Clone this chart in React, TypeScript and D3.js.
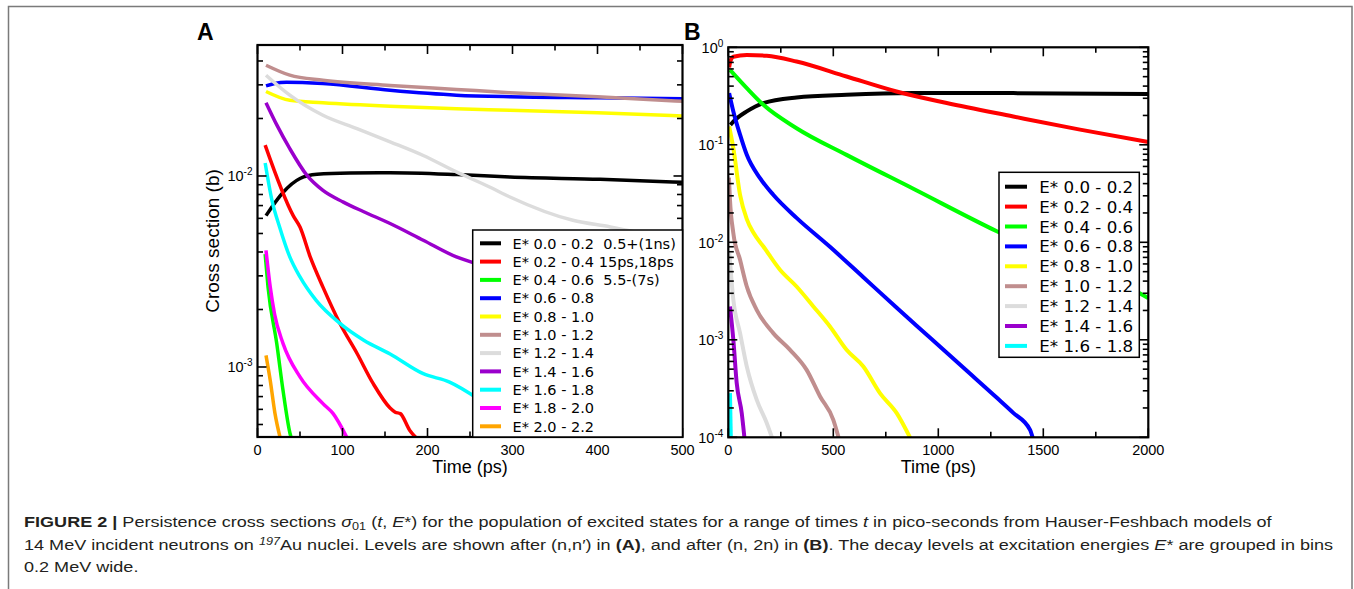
import React from 'react';
import * as d3 from 'd3';

type Pt = [number, number];

const FONT = "'Liberation Sans', Arial, Helvetica, sans-serif";
const LEGEND_FONT = "'DejaVu Sans', Verdana, sans-serif";

const colors = ['#000000', '#ff0000', '#00ff00', '#0000ff', '#ffff00', '#c08e8e', '#dcdcdc', '#9a00cc', '#00ffff', '#ff00ff', '#ffa500'];

const labelsA = [
  'E* 0.0 - 0.2  0.5+(1ns)', 'E* 0.2 - 0.4 15ps,18ps', 'E* 0.4 - 0.6  5.5-(7s)', 'E* 0.6 - 0.8',
  'E* 0.8 - 1.0', 'E* 1.0 - 1.2', 'E* 1.2 - 1.4', 'E* 1.4 - 1.6', 'E* 1.6 - 1.8', 'E* 1.8 - 2.0', 'E* 2.0 - 2.2',
];
const labelsB = labelsA.slice(0, 9).map(l => l.slice(0, 12));

const xTicksA = [0, 100, 200, 300, 400, 500];
const xTicksB = [0, 500, 1000, 1500, 2000];

// panel A, after (n,n'): [time ps, cross section b]
const a00: Pt[] = [[10, 6.2e-3], [30, 8.2e-3], [50, 9.7e-3], [70, 1.02e-2], [109, 1.036e-2], [156, 1.04e-2], [235, 1.017e-2], [297, 9.88e-3], [403, 9.6e-3], [500, 9.27e-3]];
const a02: Pt[] = [[9, 1.45e-2], [42, 6.2e-3], [50, 5.4e-3], [62, 3.77e-3], [77, 2.62e-3], [97, 1.69e-3], [117, 1.18e-3], [136, 8.2e-4], [156, 6.1e-4], [162, 5.8e-4], [168, 5.7e-4], [179, 4.67e-4], [188, 4.2e-4]];
const a04: Pt[] = [[9, 3.9e-3], [12.4, 2.62e-3], [22.6, 1.33e-3], [30, 7.55e-4], [38.2, 4.5e-4], [40, 4.2e-4]];
const a06: Pt[] = [[10, 2.96e-2], [20, 3.05e-2], [34, 3.1e-2], [77, 3.05e-2], [156, 2.81e-2], [234, 2.65e-2], [297, 2.6e-2], [400, 2.57e-2], [500, 2.54e-2]];
const a08: Pt[] = [[10, 2.77e-2], [38, 2.49e-2], [77, 2.42e-2], [156, 2.32e-2], [234, 2.25e-2], [297, 2.21e-2], [400, 2.14e-2], [500, 2.06e-2]];
const a10: Pt[] = [[10, 3.8e-2], [38, 3.37e-2], [77, 3.17e-2], [156, 2.98e-2], [234, 2.84e-2], [297, 2.73e-2], [400, 2.6e-2], [500, 2.46e-2]];
const a12: Pt[] = [[10, 3.37e-2], [38, 2.65e-2], [77, 2.08e-2], [117, 1.77e-2], [156, 1.51e-2], [195, 1.28e-2], [234, 1.05e-2], [273, 8.76e-3], [297, 7.76e-3], [371, 5.86e-3], [415, 5.41e-3], [500, 4.5e-3]];
const a14: Pt[] = [[10, 2.42e-2], [23, 1.84e-2], [38, 1.39e-2], [58, 1.01e-2], [77, 8.4e-3], [101, 7.3e-3], [125, 6.5e-3], [156, 5.64e-3], [195, 4.61e-3], [234, 3.77e-3], [260, 3.45e-3]];
const a16: Pt[] = [[9, 1.17e-2], [17, 7.46e-3], [26, 5.41e-3], [38, 3.77e-3], [50, 2.96e-3], [69, 2.23e-3], [97, 1.69e-3], [125, 1.38e-3], [156, 1.17e-3], [195, 9.22e-4], [226, 8.34e-4], [260, 6.8e-4]];
const a18: Pt[] = [[10, 4.08e-3], [15, 2.62e-3], [20, 1.9e-3], [30, 1.33e-3], [50, 8.87e-4], [77, 6.43e-4], [89, 5.7e-4], [106, 4.2e-4]];
const a20: Pt[] = [[10, 1.15e-3], [15, 8.5e-4], [20.6, 5.7e-4], [27, 4.2e-4]];

// panel B, after (n,2n)
const b00: Pt[] = [[10, 0.16], [24, 0.173], [88, 0.22], [167, 0.268], [325, 0.306], [563, 0.326], [881, 0.339], [1357, 0.339], [2000, 0.331]];
const b02: Pt[] = [[4, 0.62], [10, 0.72], [24, 0.8], [88, 0.835], [183, 0.82], [325, 0.715], [563, 0.502], [801, 0.352], [1040, 0.268], [1357, 0.195], [1675, 0.143], [2000, 0.107]];
const b04: Pt[] = [[8, 0.588], [88, 0.382], [167, 0.257], [325, 0.148], [563, 0.0788], [881, 0.0354], [1281, 0.0129], [1959, 3.01e-3], [2000, 2.68e-3]];
const b06: Pt[] = [[4, 0.339], [24, 0.22], [56, 0.127], [88, 0.0789], [151, 0.0455], [214, 0.0307], [325, 0.0178], [484, 8.99e-3], [643, 4.38e-3], [802, 2.13e-3], [961, 1.05e-3], [1120, 5.16e-4], [1279, 2.54e-4], [1357, 1.78e-4], [1437, 1.19e-4], [1450, 9.8e-5]];
const b08: Pt[] = [[4, 0.154], [24, 0.0925], [56, 0.0307], [88, 0.0173], [120, 0.0125], [167, 9.06e-3], [246, 5.23e-3], [325, 3.52e-3], [405, 2.2e-3], [484, 1.37e-3], [563, 7.89e-4], [643, 5.32e-4], [722, 2.84e-4], [802, 1.77e-4], [867, 9.8e-5]];
const b10: Pt[] = [[3, 0.046], [8, 0.0273], [24, 0.0124], [56, 6.62e-3], [88, 3.52e-3], [135, 2.03e-3], [214, 1.17e-3], [294, 7.89e-4], [373, 4.92e-4], [437, 2.62e-4], [500, 1.51e-4], [526, 9.8e-5]];
const b12: Pt[] = [[5, 7.74e-3], [24, 2.57e-3], [56, 1.17e-3], [88, 5.32e-4], [135, 2.43e-4], [183, 1.4e-4], [209, 9.8e-5]];
const b14: Pt[] = [[8, 2.2e-3], [24, 1.0e-3], [40, 3.6e-4], [64, 1.77e-4], [77, 9.8e-5]];
const b16: Pt[] = [[8, 2.84e-4], [12, 9.8e-5]];

type Seg = { t: string; b?: boolean; i?: boolean; sub?: boolean; sup?: boolean };

const caption1: Seg[] = [
  { t: 'FIGURE 2 |', b: true }, { t: ' Persistence cross sections ' }, { t: 'σ', i: true }, { t: '01', sub: true },
  { t: ' (' }, { t: 't', i: true }, { t: ', ' }, { t: 'E', i: true },
  { t: '*) for the population of excited states for a range of times ' }, { t: 't', i: true },
  { t: ' in pico-seconds from Hauser-Feshbach models of' },
];
const caption2: Seg[] = [
  { t: '14 MeV incident neutrons on ' }, { t: '197', i: true, sup: true }, { t: 'Au nuclei. Levels are shown after (n,n′) in ' },
  { t: '(A)', b: true }, { t: ', and after (n, 2n) in ' }, { t: '(B)', b: true },
  { t: '. The decay levels at excitation energies ' }, { t: 'E', i: true }, { t: '* are grouped in bins' },
];
const caption3: Seg[] = [{ t: '0.2 MeV wide.' }];

interface Legend { x0: number; x1: number; y0: number; y1: number; row0: number; step: number; lx0: number; lx1: number; tx: number; size: number }
interface PanelCfg {
  name: string; nameX: number;
  left: number; right: number; top: number; bottom: number;
  xDomain: [number, number]; yDomain: [number, number];
  xTicks: number[]; xMinor: number;
  series: Pt[][]; labels: string[]; legend: Legend;
  lineWidth: number; yTitle?: string;
}

const panelA: PanelCfg = {
  name: 'A', nameX: 197, left: 257.5, right: 682.5, top: 45, bottom: 437,
  xDomain: [0, 500], yDomain: [4.3e-4, 4.85e-2], xTicks: xTicksA, xMinor: 50,
  series: [a00, a02, a04, a06, a08, a10, a12, a14, a16, a18, a20], labels: labelsA,
  legend: { x0: 472.7, x1: 682.5, y0: 230, y1: 437, row0: 243.3, step: 18.3, lx0: 480, lx1: 501, tx: 512.5, size: 14.5 },
  lineWidth: 3.5, yTitle: 'Cross section (b)',
};
const panelB: PanelCfg = {
  name: 'B', nameX: 684, left: 728.3, right: 1148.3, top: 47.3, bottom: 437.3,
  xDomain: [0, 2000], yDomain: [1e-4, 1], xTicks: xTicksB, xMinor: 250,
  series: [b00, b02, b04, b06, b08, b10, b12, b14, b16], labels: labelsB,
  legend: { x0: 999, x1: 1139.3, y0: 172.3, y1: 357.3, row0: 186.7, step: 19.9, lx0: 1005, lx1: 1027, tx: 1039.3, size: 16.7 },
  lineWidth: 4,
};

function Panel({ c }: { c: PanelCfg }) {
  const x = d3.scaleLinear().domain(c.xDomain).range([c.left, c.right]);
  const y = d3.scaleLog().domain(c.yDomain).range([c.bottom, c.top]);
  const line = d3.line<Pt>().x(d => x(d[0])).y(d => y(d[1])).curve(d3.curveMonotoneX);
  const yTicks = y.ticks().filter(v => v >= c.yDomain[0] * 0.999 && v <= c.yDomain[1] * 1.001);
  const isDecade = (v: number) => Math.abs(Math.log10(v) - Math.round(Math.log10(v))) < 1e-6;
  const xAll = d3.range(c.xDomain[0], c.xDomain[1] + 1e-9, c.xMinor);
  const clipId = `clip-${c.name}`;
  const L = c.legend;

  return (
    <g>
      <defs>
        <clipPath id={clipId}>
          <rect x={c.left} y={c.top} width={c.right - c.left} height={c.bottom - c.top} />
        </clipPath>
      </defs>
      <g clipPath={`url(#${clipId})`} fill="none" strokeLinejoin="round">
        {c.series.map((s, i) => (
          <path key={i} d={line(s) || ''} stroke={colors[i]} strokeWidth={c.lineWidth} />
        ))}
      </g>

      <g stroke="#000" strokeWidth={1.6}>
        {yTicks.map(v => {
          const len = isDecade(v) ? 9 : 5.5;
          return (
            <g key={'y' + v}>
              <line x1={c.left} x2={c.left + len} y1={y(v)} y2={y(v)} />
              <line x1={c.right} x2={c.right - len} y1={y(v)} y2={y(v)} />
            </g>
          );
        })}
        {xAll.map(v => {
          const len = c.xTicks.includes(v) ? 9 : 5.5;
          return (
            <g key={'x' + v}>
              <line x1={x(v)} x2={x(v)} y1={c.bottom} y2={c.bottom - len} />
              <line x1={x(v)} x2={x(v)} y1={c.top} y2={c.top + len} />
            </g>
          );
        })}
      </g>
      <rect x={c.left} y={c.top} width={c.right - c.left} height={c.bottom - c.top} fill="none" stroke="#000" strokeWidth={2.2} />

      <g>
        <rect x={L.x0} y={L.y0} width={L.x1 - L.x0} height={L.y1 - L.y0} fill="#fff" stroke="#000" strokeWidth={1.5} />
        {c.labels.map((lab, i) => {
          const ry = L.row0 + i * L.step;
          return (
            <g key={lab}>
              <line x1={L.lx0} x2={L.lx1} y1={ry} y2={ry} stroke={colors[i]} strokeWidth={4} />
              <text x={L.tx} y={ry + L.size * 0.36} fontFamily={LEGEND_FONT} fontSize={L.size} style={{ whiteSpace: 'pre' }}>{lab}</text>
            </g>
          );
        })}
      </g>

      <g fontFamily={FONT} fill="#000">
        {yTicks.filter(isDecade).map(v => (
          <text key={'yl' + v} x={c.left - 5} y={y(v) + 5.5} fontSize={14.5} textAnchor="end">
            10<tspan dy={-6} fontSize={10}>{String(Math.round(Math.log10(v)))}</tspan>
          </text>
        ))}
        {c.xTicks.map(v => (
          <text key={'xl' + v} x={x(v)} y={c.bottom + 18} fontSize={14.5} textAnchor="middle">{v}</text>
        ))}
        <text x={(c.left + c.right) / 2} y={473} fontSize={18} textAnchor="middle">Time (ps)</text>
        {c.yTitle && (
          <text transform={`translate(219,${(c.top + c.bottom) / 2}) rotate(-90)`} fontSize={19} textAnchor="middle">{c.yTitle}</text>
        )}
        <text x={c.nameX} y={40} fontSize={23} fontWeight="bold">{c.name}</text>
      </g>
    </g>
  );
}

function CaptionLine({ segs, y }: { segs: Seg[]; y: number }) {
  let shift = 0;
  return (
    <text transform={`translate(24,${y}) scale(1.205,1)`} fontFamily={FONT} fontSize={15} fill="#231f20" style={{ whiteSpace: 'pre' }}>
      {segs.map((s, i) => {
        const target = s.sub ? 3 : s.sup ? -5 : 0;
        const dy = target - shift;
        shift = target;
        return (
          <tspan key={i} dy={dy || undefined} fontWeight={s.b ? 'bold' : undefined} fontStyle={s.i ? 'italic' : undefined}
            fontSize={s.sub || s.sup ? 10.5 : undefined}>{s.t}</tspan>
        );
      })}
    </text>
  );
}

export default function App() {
  return (
    <svg width={1354} height={589} style={{ position: 'absolute', left: 0, top: 0, background: '#fff' }}>
      <rect x={8.5} y={6.5} width={1343.5} height={620} fill="none" stroke="#7a7a7a" strokeWidth={1.5} />
      <Panel c={panelA} />
      <Panel c={panelB} />
      <CaptionLine segs={caption1} y={527} />
      <CaptionLine segs={caption2} y={550} />
      <CaptionLine segs={caption3} y={572} />
    </svg>
  );
}
